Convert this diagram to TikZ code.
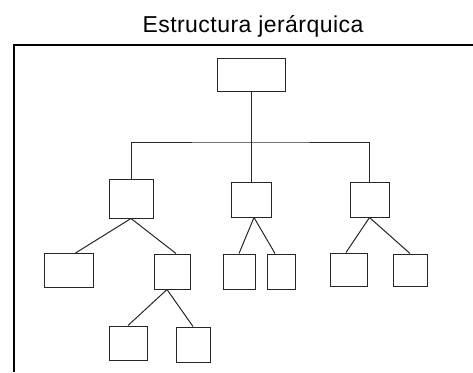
\documentclass[tikz,border=0pt]{standalone}
\usepackage{fontspec}
\setmainfont{Liberation Sans}
\usepackage{tikz}
\usetikzlibrary{positioning}
\tikzstyle{box} = [rectangle, inner sep=0pt, draw=black!85, line width=1pt]
\tikzstyle{link} = [draw=black!85, line width=1pt]
\tikzstyle{frame} = [draw=black, line width=2pt]

\begin{document}
\begin{tikzpicture}[x=1pt,y=-1pt,node distance=72pt]

    \useasboundingbox (0,0) rectangle (473,372);

    % Title and frame
    \node (title) [anchor=base] at (253,32) {\fontsize{23}{26}\selectfont\addfontfeature{LetterSpace=2}Estructura jer\'arquica};
    \draw [frame] (473,45) -- (14,45) -- (14,372);

    % Nodes
    \node (root) [box, minimum width=68pt, minimum height=33pt] at (251,74.5) {};

    \node (left) [box, minimum width=44pt, minimum height=39pt, below of=root, xshift=-120pt, yshift=-52pt] {};
    \node (mid) [box, minimum width=40pt, minimum height=35pt, below of=root, yshift=-53pt] {};
    \node (right) [box, minimum width=39pt, minimum height=35pt, below of=root, xshift=118.5pt, yshift=-53pt] {};

    \node (leftA) [box, minimum width=49pt, minimum height=34pt, below of=left, xshift=-62.5pt] {};
    \node (leftB) [box, minimum width=36pt, minimum height=35pt, below of=left, xshift=41pt, yshift=-1pt] {};
    \node (midA) [box, minimum width=32pt, minimum height=35pt, below of=mid, xshift=-12pt] {};
    \node (midB) [box, minimum width=28pt, minimum height=35pt, below of=mid, xshift=30pt] {};
    \node (rightA) [box, minimum width=37pt, minimum height=33pt, below of=right, xshift=-21pt, yshift=2pt] {};
    \node (rightB) [box, minimum width=34pt, minimum height=32pt, below of=right, xshift=40.5pt, yshift=1.5pt] {};

    \node (leftBA) [box, minimum width=38pt, minimum height=34pt, below of=leftB, xshift=-44pt, yshift=0.5pt] {};
    \node (leftBB) [box, minimum width=34pt, minimum height=35pt, below of=leftB, xshift=21pt, yshift=-1pt] {};

    % Lines
    \coordinate (bar) at (251,142);
    \draw [link] (root.south) -- (mid.north);
    \draw [link] (left.north) |- (bar) -| (right.north);
    \draw [link] (left.south) -- ([xshift=7pt]leftA.north);
    \draw [link] (left.south) -- ([xshift=4pt]leftB.north);
    \draw [link] ([xshift=3pt]mid.south) -- (midA.north);
    \draw [link] ([xshift=3pt]mid.south) -- ([xshift=-6pt]midB.north);
    \draw [link] (right.south) -- ([xshift=-2.5pt]rightA.north);
    \draw [link] (right.south) -- (rightB.north);
    \draw [link] ([xshift=-5pt]leftB.south) -- (leftBA.north);
    \draw [link] ([xshift=-5pt]leftB.south) -- (leftBB.north);

\end{tikzpicture}
\end{document}
